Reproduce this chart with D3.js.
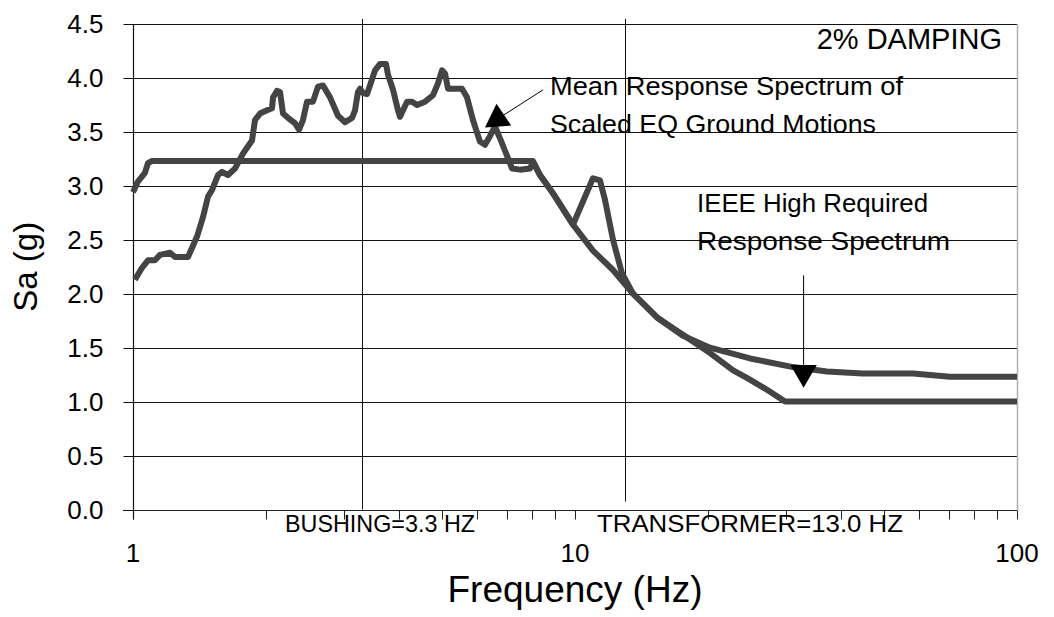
<!DOCTYPE html>
<html>
<head>
<meta charset="utf-8">
<script src="https://cdn.jsdelivr.net/npm/d3@7"></script>
<style>
  html, body { margin: 0; padding: 0; background: #fff; }
  svg { display: block; font-family: "Liberation Sans", Arial, sans-serif; }
</style>
</head>
<body>
<svg id="chart" width="1054" height="617"></svg>
<script>
// Mean response spectrum of the scaled earthquake ground motions (Hz, g)
const meanFreq = [1.01, 1.048, 1.081, 1.121, 1.151, 1.213, 1.245, 1.332, 1.396, 1.44, 1.478, 1.509, 1.557, 1.59, 1.64, 1.701, 1.774, 1.859, 1.888, 1.938, 2.01, 2.063, 2.074, 2.118, 2.151, 2.185, 2.242, 2.326, 2.375, 2.424, 2.476, 2.554, 2.621, 2.691, 2.791, 2.91, 3.018, 3.13, 3.179, 3.228, 3.262, 3.314, 3.384, 3.437, 3.528, 3.622, 3.737, 3.775, 3.875, 3.977, 4.019, 4.083, 4.169, 4.279, 4.392, 4.579, 4.773, 4.898, 5.002, 5.081, 5.161, 5.297, 5.55, 5.697, 5.877, 6.095, 6.256, 6.421, 6.592, 6.766, 7.127, 7.202, 7.509, 7.911, 8.035, 8.333, 8.918, 9.897, 10.98, 11.39, 11.69, 12.19, 12.77, 13.53, 15.33, 17.55, 20.21, 24.89, 31.13, 37.16, 44.83, 58.19, 70.53, 100];
const meanSa = [2.13, 2.24, 2.31, 2.31, 2.36, 2.38, 2.34, 2.34, 2.53, 2.71, 2.9, 2.96, 3.1, 3.13, 3.1, 3.16, 3.3, 3.42, 3.61, 3.67, 3.7, 3.72, 3.82, 3.88, 3.87, 3.67, 3.63, 3.58, 3.52, 3.61, 3.78, 3.78, 3.92, 3.93, 3.82, 3.65, 3.59, 3.63, 3.7, 3.87, 3.9, 3.86, 3.85, 3.93, 4.07, 4.13, 4.13, 4.03, 3.89, 3.7, 3.64, 3.7, 3.78, 3.78, 3.75, 3.78, 3.84, 3.95, 4.07, 4.04, 3.9, 3.9, 3.9, 3.82, 3.61, 3.41, 3.38, 3.46, 3.55, 3.44, 3.21, 3.16, 3.15, 3.16, 3.22, 3.1, 2.93, 2.64, 3.07, 3.05, 2.87, 2.5, 2.19, 2.0, 1.78, 1.61, 1.5, 1.4, 1.32, 1.28, 1.26, 1.26, 1.23, 1.23];

// IEEE high-level required response spectrum, 2% damping (Hz, g)
const ieeeFreq = [1.0, 1.026, 1.064, 1.081, 1.104, 8.035, 8.333, 8.918, 9.897, 10.98, 12.19, 13.53, 15.33, 17.55, 20.21, 22.79, 24.49, 27.19, 29.87, 100];
const ieeeSa = [2.94, 3.04, 3.12, 3.21, 3.23, 3.23, 3.1, 2.93, 2.64, 2.4, 2.22, 2.0, 1.78, 1.62, 1.45, 1.29, 1.22, 1.11, 1.0, 1.0];

// Axis ticks
const xMajorTicks = [1, 10, 100];
const xMinorTicks = [2, 3, 4, 5, 6, 7, 8, 9, 20, 30, 40, 50, 60, 70, 80, 90];
const yTicks = [0, 0.5, 1.0, 1.5, 2.0, 2.5, 3.0, 3.5, 4.0, 4.5];

// Component natural frequencies (Hz)
const markerFreqs = [3.3, 13.0];
const markerLabels = ["BUSHING=3.3 HZ", "TRANSFORMER=13.0 HZ"];

// Callout arrows: tail point and arrowhead centre (Hz, g)
const meanArrow = { tail: [8.47, 3.89], head: [6.68, 3.62] };
const ieeeArrow = { tail: [32.9, 2.17], head: [32.9, 1.27] };

const svg = d3.select("#chart");
const plotLeft = 133, plotRight = 1017, plotTop = 24, plotBottom = 509.5;

const x = d3.scaleLog().domain([1, 100]).range([plotLeft, plotRight]);
const y = d3.scaleLinear().domain([0, 4.5]).range([plotBottom, plotTop]);

// horizontal gridlines
svg.append("g")
  .selectAll("line")
  .data(yTicks.filter(d => d > 0))
  .join("line")
  .attr("x1", plotLeft).attr("x2", plotRight)
  .attr("y1", d => Math.round(y(d)) + 0.5).attr("y2", d => Math.round(y(d)) + 0.5)
  .attr("stroke", "#111").attr("stroke-width", 1);

// right frame
svg.append("line")
  .attr("x1", plotRight + 0.5).attr("x2", plotRight + 0.5)
  .attr("y1", Math.round(y(4.5))).attr("y2", Math.round(plotBottom))
  .attr("stroke", "#b0b0b0").attr("stroke-width", 1.5);

// vertical lines at component frequencies
svg.append("g")
  .selectAll("line")
  .data(markerFreqs)
  .join("line")
  .attr("x1", d => Math.round(x(d)) + 0.5).attr("x2", d => Math.round(x(d)) + 0.5)
  .attr("y1", y(4.5) - 5)
  .attr("y2", (d, i) => i === 0 ? plotBottom : plotBottom - 8)
  .attr("stroke", "#111").attr("stroke-width", 1);

// x axis (log) with major and minor ticks
const xAxis = svg.append("g").attr("transform", `translate(0,${Math.round(plotBottom) + 0.5})`);
xAxis.append("line").attr("x1", plotLeft - 10).attr("x2", plotRight).attr("stroke", "#222").attr("stroke-width", 1.2);
xAxis.selectAll("line.tick")
  .data(xMajorTicks.concat(xMinorTicks))
  .join("line")
  .attr("class", "tick")
  .attr("x1", d => Math.round(x(d)) + 0.5).attr("x2", d => Math.round(x(d)) + 0.5)
  .attr("y1", 0).attr("y2", 9)
  .attr("stroke", "#222").attr("stroke-width", 1);
xAxis.selectAll("text")
  .data(xMajorTicks)
  .join("text")
  .attr("x", d => x(d))
  .attr("y", 51)
  .attr("text-anchor", "middle")
  .attr("font-size", 26)
  .text(d => d);

// y axis
const yAxis = svg.append("g").attr("transform", `translate(${plotLeft + 0.5},0)`);
yAxis.append("line").attr("y1", y(4.5)).attr("y2", plotBottom + 10).attr("stroke", "#111").attr("stroke-width", 1.2);
yAxis.selectAll("line.tick")
  .data(yTicks)
  .join("line")
  .attr("class", "tick")
  .attr("x1", -10).attr("x2", 0)
  .attr("y1", d => Math.round(y(d)) + 0.5).attr("y2", d => Math.round(y(d)) + 0.5)
  .attr("stroke", "#111");
yAxis.selectAll("text")
  .data(yTicks)
  .join("text")
  .attr("x", -30)
  .attr("y", d => y(d))
  .attr("dy", "0.35em")
  .attr("text-anchor", "end")
  .attr("font-size", 26)
  .text(d => d.toFixed(1));

// axis titles
svg.append("text")
  .attr("x", 575).attr("y", 602)
  .attr("text-anchor", "middle")
  .attr("font-size", 37)
  .text("Frequency (Hz)");
svg.append("text")
  .attr("transform", `translate(37,${(plotTop + plotBottom) / 2}) rotate(-90)`)
  .attr("text-anchor", "middle")
  .attr("font-size", 33)
  .text("Sa (g)");

// component frequency labels, placed along the x axis
const markerLabelLayout = [
  { x: 285, width: 190 },
  { x: 597, width: 306 }
];
svg.append("g")
  .selectAll("text")
  .data(markerLabels)
  .join("text")
  .attr("x", (d, i) => markerLabelLayout[i].x)
  .attr("y", plotBottom + 22)
  .attr("font-size", 24)
  .attr("textLength", (d, i) => markerLabelLayout[i].width)
  .attr("lengthAdjust", "spacingAndGlyphs")
  .text(d => d);

// spectra
const line = d3.line().x(d => x(d[0])).y(d => y(d[1]));
const series = [
  d3.zip(ieeeFreq, ieeeSa),
  d3.zip(meanFreq, meanSa)
];
svg.append("g")
  .selectAll("path")
  .data(series)
  .join("path")
  .attr("d", line)
  .attr("fill", "none")
  .attr("stroke", "#444")
  .attr("stroke-width", 6)
  .attr("stroke-linejoin", "round");

// callouts
function callout(a, rotation) {
  svg.append("line")
    .attr("x1", x(a.tail[0])).attr("y1", y(a.tail[1]))
    .attr("x2", x(a.head[0])).attr("y2", y(a.head[1]))
    .attr("stroke", "#000").attr("stroke-width", 1);
  svg.append("path")
    .attr("d", d3.symbol().type(d3.symbolTriangle).size(300)())
    .attr("transform", `translate(${x(a.head[0])},${y(a.head[1])}) rotate(${rotation})`)
    .attr("fill", "#000");
}
callout(meanArrow, -4);
callout(ieeeArrow, 180);

// annotation text
const notes = [
  { text: "Mean Response Spectrum of", x: 550, y: 95, width: 353 },
  { text: "Scaled EQ Ground Motions", x: 550, y: 133, width: 326 },
  { text: "IEEE High Required", x: 697, y: 212, width: 231 },
  { text: "Response Spectrum", x: 697, y: 250, width: 253 }
];
svg.append("g")
  .selectAll("text")
  .data(notes)
  .join("text")
  .attr("x", d => d.x).attr("y", d => d.y)
  .attr("font-size", 26)
  .attr("textLength", d => d.width)
  .attr("lengthAdjust", "spacingAndGlyphs")
  .text(d => d.text);

svg.append("text")
  .attr("x", 1002).attr("y", 49)
  .attr("text-anchor", "end")
  .attr("font-size", 29)
  .text("2% DAMPING");
</script>
</body>
</html>
